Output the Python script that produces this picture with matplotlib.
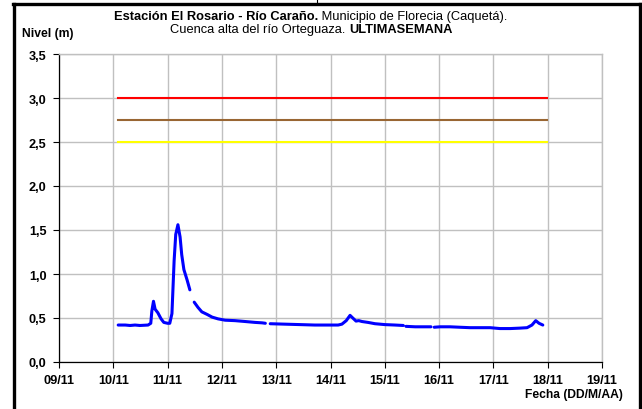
import numpy as np
import matplotlib
matplotlib.use('Agg')
import matplotlib.pyplot as plt
from matplotlib.lines import Line2D

plt.rcParams['font.family'] = ['Liberation Sans', 'DejaVu Sans']

# Data (day of November, level in m); nan = gap in record
dias = [10.09, 10.22, 10.31, 10.40, 10.49, 10.64, 10.69, 10.71, 10.74, 10.77,
        10.82, 10.88, 10.93, 11.00, 11.04, 11.08, 11.12, 11.15, 11.19, 11.23,
        11.26, 11.30, 11.36, 11.41, 11.45, 11.49, 11.56, 11.63, 11.73, 11.82,
        11.93, 12.06, 12.24, 12.43, 12.61, 12.74, 12.80, 12.85, 12.89, 13.16,
        13.44, 13.71, 13.99, 14.14, 14.21, 14.29, 14.36, 14.41, 14.47, 14.52,
        14.58, 14.69, 14.82, 15.00, 15.19, 15.34, 15.37, 15.39, 15.56, 15.74,
        15.85, 15.88, 15.91, 16.02, 16.20, 16.38, 16.57, 16.75, 16.94, 17.12,
        17.31, 17.49, 17.62, 17.71, 17.78, 17.84, 17.91]
nivel = [0.42, 0.42, 0.415, 0.42, 0.415, 0.42, 0.44, 0.58, 0.69, 0.60,
         0.56, 0.49, 0.45, 0.44, 0.44, 0.55, 1.15, 1.45, 1.56, 1.42,
         1.22, 1.05, 0.93, 0.82, np.nan, 0.68, 0.62, 0.57, 0.54, 0.51,
         0.49, 0.475, 0.47, 0.46, 0.45, 0.445, 0.44, np.nan, 0.435, 0.43,
         0.425, 0.42, 0.42, 0.42, 0.43, 0.47, 0.53, 0.50, 0.465, 0.47,
         0.46, 0.45, 0.435, 0.425, 0.42, 0.415, np.nan, 0.405, 0.40, 0.40,
         0.40, np.nan, 0.395, 0.40, 0.40, 0.395, 0.39, 0.39, 0.39, 0.38,
         0.38, 0.385, 0.39, 0.42, 0.47, 0.44, 0.42]

# alert thresholds
umbral_ini, umbral_fin = 10.09, 17.99
umbral_rojo = 3.0
umbral_naranja = 2.75
umbral_amarillo = 2.5

ticks_x = list(range(9, 20))
etiquetas_x = ['%02d/11' % d for d in ticks_x]
ticks_y = [0.0, 0.5, 1.0, 1.5, 2.0, 2.5, 3.0, 3.5]
etiquetas_y = ['0,0', '0,5', '1,0', '1,5', '2,0', '2,5', '3,0', '3,5']

W, H = 642, 410
fig = plt.figure(figsize=(W / 100, H / 100), dpi=100)
ax = fig.add_axes([59 / W, 1 - 363 / H, (602 - 59) / W, (363 - 55) / H])

ax.plot([umbral_ini, umbral_fin], [umbral_rojo] * 2, color='#FF0000', lw=1.5)
ax.plot([umbral_ini, umbral_fin], [umbral_naranja] * 2, color='#996633', lw=1.5)
ax.plot([umbral_ini, umbral_fin], [umbral_amarillo] * 2, color='#FFFF00', lw=1.5)
ax.plot(dias, nivel, color='#0000FF', lw=2.2, solid_capstyle='round')

ax.set_xlim(9, 19)
ax.set_ylim(0, 3.5)
ax.set_xticks(ticks_x)
ax.set_xticklabels(etiquetas_x)
ax.set_yticks(ticks_y)
ax.set_yticklabels(etiquetas_y)
ax.grid(True, color='#C0C0C0', lw=1.0)
ax.set_axisbelow(True)
for s in ['top', 'right']:
    ax.spines[s].set_color('#C0C0C0')
    ax.spines[s].set_linewidth(1.0)
for s in ['left', 'bottom']:
    ax.spines[s].set_color('black')
    ax.spines[s].set_linewidth(0.9)
ax.tick_params(axis='both', direction='out', length=4, width=0.8, labelsize=9.2, pad=5)
for lab in ax.get_xticklabels() + ax.get_yticklabels():
    lab.set_fontweight('bold')

# outer frame (bottom edge falls outside the image)
fig.add_artist(Line2D([13.5 / W, 13.5 / W], [0, 1 - 5 / H], color='black', lw=2.4))
fig.add_artist(Line2D([12.5 / W, 640.5 / W], [1 - 5 / H, 1 - 5 / H], color='black', lw=2.4))
fig.add_artist(Line2D([639.5 / W, 639.5 / W], [0, 1 - 5 / H], color='black', lw=2.4))
fig.add_artist(Line2D([317 / W, 317 / W], [1 - 4 / H, 1], color='black', lw=0.8))

fig.text(22 / W, 1 - 34 / H, 'Nivel (m)', fontsize=8.7, fontweight='bold', va='center', ha='left')
fig.text(623 / W, 1 - 395 / H, 'Fecha (DD/M/AA)', fontsize=8.7, fontweight='bold', va='center', ha='right')

# two-line title with mixed bold / normal parts, centred
renderer = fig.canvas.get_renderer()


def linea(partes, xc, y):
    txts = [fig.text(0, y, t, fontsize=9.3, fontweight=w, va='center', ha='left') for t, w in partes]
    anchos = [t.get_window_extent(renderer).width for t in txts]
    x = xc - sum(anchos) / 2
    for t, a in zip(txts, anchos):
        t.set_x(x / W)
        x += a


linea([('Estación El Rosario - Río Caraño.', 'bold'), (' Municipio de Florecia (Caquetá).', 'normal')],
      311, 1 - 17 / H)
linea([('Cuenca alta del río Orteguaza. ', 'normal'), ('ULTIMASEMANA', 'bold')],
      311, 1 - 30 / H)

fig.savefig('out.png', dpi=100)
